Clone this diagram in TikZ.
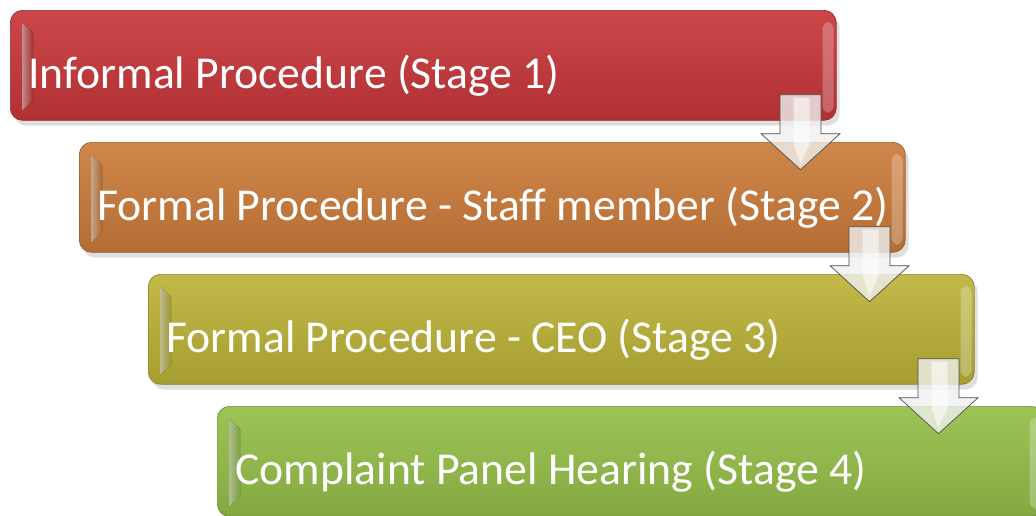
\documentclass[tikz,border=0pt]{standalone}
\usepackage{fontspec}
\setmainfont{Carlito}
\usetikzlibrary{calc,shadows}

\definecolor{stageA}{HTML}{C8373A}
\definecolor{stageB}{HTML}{CC7C3B}
\definecolor{stageC}{HTML}{BDB339}
\definecolor{stageD}{HTML}{95BF49}

\tikzset{
  stagebox/.style={draw=#1!75!black, rounded corners=7pt, anchor=north west,
    minimum width=16.52cm, minimum height=2.2cm,
    top color=#1!92!white, bottom color=#1!88!black,
    drop shadow={opacity=0.25, shadow xshift=2pt, shadow yshift=-3pt}},
  stagetext/.style={text=white, font=\fontsize{26}{32}\selectfont,
    anchor=base west, inner sep=0pt},
  downarrow/.style={draw=gray!60!black, fill=white!88!gray, fill opacity=0.8,
    line join=miter, thin},
}

\begin{document}
\begin{tikzpicture}[x=0.02cm, y=-0.02cm]
  \useasboundingbox (0,0) rectangle (1036,515);

  % Stage boxes
  \node[stagebox=stageA] (s1) at (10,10) {};
  \node[stagebox=stageB] (s2) at (79,142) {};
  \node[stagebox=stageC] (s3) at (148,274) {};
  \node[stagebox=stageD] (s4) at (217,406) {};

  % bevel highlights
  \foreach \i/\c in {1/stageA,2/stageB,3/stageC,4/stageD} {
    \fill[left color=\c!40!white, right color=\c, opacity=0.8]
      ($(s\i.north west)+(12,13)$) -- ++(11,10)
      -- ($(s\i.south west)+(23,-20)$) -- ++(-11,10) -- cycle;
    \fill[white, opacity=0.25, rounded corners=4pt]
      ($(s\i.north east)+(-14,12)$) rectangle ($(s\i.south east)+(-3,-8)$);
  }

  % Stage labels
  \node[stagetext] (t1) at ($(s1.west)+(18,23)$) {Informal Procedure (Stage 1)};
  \node[stagetext] (t2) at ($(s2.west)+(18,23)$) {Formal Procedure - Staff member (Stage 2)};
  \node[stagetext] (t3) at ($(s3.west)+(18,23)$) {Formal Procedure - CEO (Stage 3)};
  \node[stagetext] (t4) at ($(s4.west)+(18,23)$) {Complaint Panel Hearing (Stage 4)};

  % Arrows between stages
  \foreach \i/\j in {1/2,2/3,3/4} {
    \coordinate (tip\i) at ($(s\i.south east)+(-36,49)$);
    \draw[downarrow] (tip\i) -- ++(-39.5,-36) -- ++(19,0) -- ++(0,-39)
      -- ++(41,0) -- ++(0,39) -- ++(19,0) -- cycle;
    \fill[white, opacity=0.55] ($(tip\i)+(-7,-72)$) -- ++(16,0) -- ++(0,46)
      -- ($(tip\i)+(0,-6)$) -- ($(tip\i)+(-7,-26)$) -- cycle;
  }
\end{tikzpicture}
\end{document}
